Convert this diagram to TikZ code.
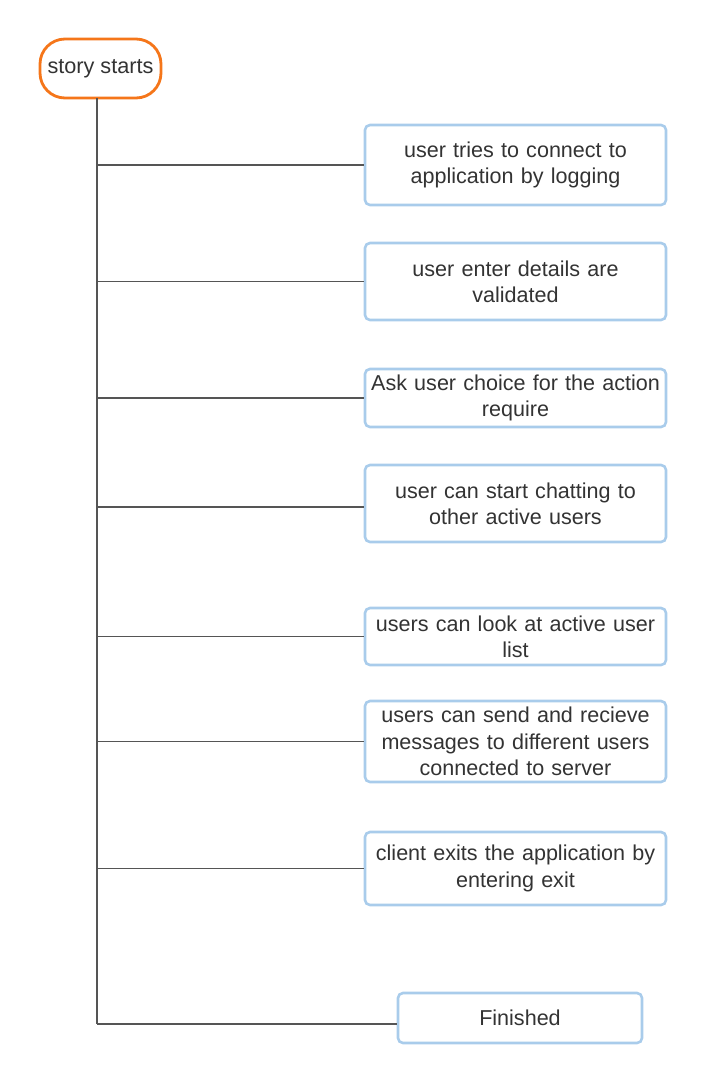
\documentclass[tikz,border=0pt]{standalone}
\usepackage{fontspec}
\setmainfont{Liberation Sans}
\usepackage{tikz}
\usetikzlibrary{positioning, calc}
\definecolor{storyorange}{HTML}{F5761A}
\definecolor{stepblue}{HTML}{A9CCEB}
\definecolor{textgray}{HTML}{333333}
\definecolor{linegray}{HTML}{555555}

\begin{document}
\begin{tikzpicture}[
    x=0.03cm, y=-0.03cm,
    startnode/.style={draw=storyorange, line width=2.4pt, rounded corners=0.75cm, fill=white,
        minimum width=3.63cm, minimum height=1.77cm, inner sep=1pt,
        font=\fontsize{18.5}{22.5}\selectfont, text=textgray},
    stepnode/.style={draw=stepblue, line width=2.2pt, rounded corners=0.15cm, fill=white,
        minimum width=9.03cm, text width=8.8cm, align=center, inner sep=1pt,
        font=\fontsize{18.4}{22.5}\selectfont, text=textgray},
    branch/.style={draw=linegray, line width=1pt}
]
\useasboundingbox (0,0) rectangle (707,1083);

% Start of the story
\node[startnode] (story) at (100.5,68.5) {story starts};

% Steps
\node[stepnode, minimum height=2.4cm] (s1) at (515.5,165) {user tries to connect to\\application by logging};
\node[stepnode, minimum height=2.31cm] (s2) at (515.5,281.5) {user enter details are\\validated};
\node[stepnode, minimum height=1.74cm] (s3) at (515.5,398) {Ask user choice for the action\\require};
\node[stepnode, minimum height=2.31cm] (s4) at (515.5,503.5) {user can start chatting to\\other active users};
\node[stepnode, minimum height=1.71cm] (s5) at (515.5,636.5) {users can look at active user\\list};
\node[stepnode, minimum height=2.43cm] (s6) at (515.5,741.5) {users can send and recieve\\messages to different users\\connected to server};
\node[stepnode, minimum height=2.19cm] (s7) at (515.5,868.5) {client exits the application by\\entering exit};
\node[stepnode, minimum width=7.32cm, text width=7cm, minimum height=1.5cm] (fin) at (520,1018) {Finished};

% Trunk
\coordinate (top) at (97,98);
\coordinate (bottom) at (97,1024);
\draw[branch] (top) -- (bottom);

% Branches
\foreach \s in {s1,s2,s3,s5,s6,s7}
    \draw[branch] (top |- \s.west) -- (\s.west);
\draw[branch] ($(top |- s4.west)+(0,3.5)$) -- ($(s4.west)+(0,3.5)$);
\draw[branch] (bottom) -- (bottom -| fin.west);

\end{tikzpicture}
\end{document}
